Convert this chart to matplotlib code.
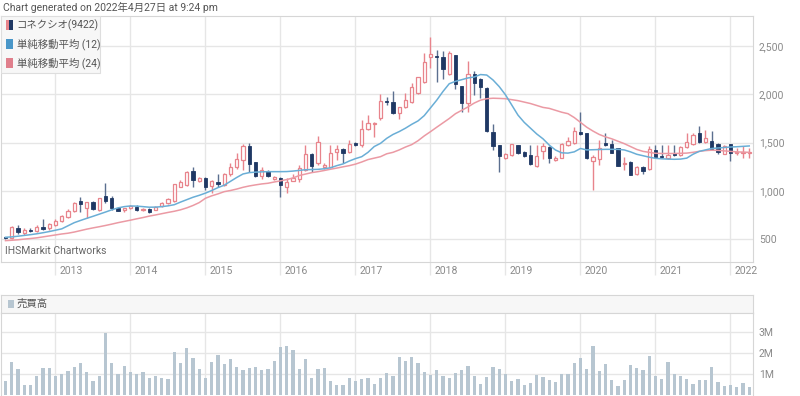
import matplotlib
matplotlib.use('Agg')
import matplotlib.pyplot as plt
from matplotlib.patches import Rectangle
import numpy as np
import pandas as pd

FONT = ['Roboto', 'Noto Sans CJK JP', 'DejaVu Sans']
plt.rcParams['font.family'] = FONT

# monthly candles, May 2012 .. Apr 2022
months = pd.date_range('2012-05-01', periods=120, freq='MS')

opens = [518, 510, 620, 565, 595, 590, 625, 612, 645, 690, 735, 790,
         895, 820, 885, 800, 945, 925, 828, 800, 825, 830, 800, 815,
         805, 840, 880, 895, 1045, 1065, 1205, 1100, 1130, 1050, 1095, 1060,
         1175, 1245, 1320, 1465, 1295, 1155, 1205, 1120, 1130, 1040, 1105, 1120,
         1215, 1385, 1285, 1250, 1250, 1400, 1430, 1405, 1495, 1475, 1640, 1690,
         1760, 1935, 1925, 1805, 1870, 1925, 2015, 2130, 2385, 2395, 2385, 2210,
         2405, 2085, 1915, 2215, 2155, 2070, 1615, 1475, 1340, 1375, 1475, 1405,
         1375, 1260, 1410, 1460, 1325, 1345, 1475, 1495, 1615, 1595, 1315, 1330,
         1495, 1490, 1440, 1280, 1305, 1175, 1250, 1225, 1425, 1365, 1340, 1390,
         1375, 1460, 1485, 1595, 1510, 1520, 1485, 1385, 1485, 1390, 1395, 1390]
highs = [520, 635, 648, 614, 612, 650, 705, 668, 705, 752, 810, 885,
         940, 890, 900, 930, 1080, 945, 835, 825, 860, 850, 825, 825,
         845, 890, 925, 1075, 1110, 1210, 1250, 1140, 1140, 1110, 1180, 1190,
         1285, 1390, 1485, 1495, 1300, 1245, 1215, 1160, 1140, 1130, 1180, 1270,
         1475, 1390, 1570, 1290, 1475, 1475, 1440, 1530, 1505, 1735, 1785, 1717,
         2005, 1975, 2030, 1870, 2010, 2115, 2180, 2430, 2590, 2460, 2450, 2450,
         2410, 2090, 2350, 2245, 2165, 2075, 1695, 1480, 1395, 1490, 1480, 1410,
         1475, 1475, 1500, 1470, 1360, 1500, 1560, 1665, 1820, 1600, 1370, 1530,
         1595, 1530, 1450, 1355, 1310, 1255, 1260, 1470, 1475, 1475, 1475, 1480,
         1470, 1600, 1605, 1670, 1630, 1625, 1495, 1475, 1490, 1445, 1465, 1440]
lows = [505, 505, 552, 545, 580, 580, 595, 600, 635, 680, 725, 780,
        780, 720, 800, 795, 880, 800, 790, 780, 815, 795, 790, 770,
        800, 835, 870, 890, 1040, 1050, 1045, 1090, 1010, 975, 1045, 1055,
        1160, 1225, 1215, 1200, 1140, 1120, 1140, 1110, 940, 975, 1100, 1090,
        1205, 1200, 1270, 1230, 1245, 1320, 1285, 1395, 1470, 1460, 1630, 1556,
        1735, 1895, 1800, 1750, 1860, 1915, 2000, 2120, 2270, 2130, 2160, 2200,
        2060, 1820, 1820, 1995, 1960, 1615, 1425, 1200, 1330, 1365, 1385, 1355,
        1270, 1250, 1330, 1285, 1315, 1340, 1470, 1490, 1580, 1330, 1015, 1270,
        1470, 1390, 1255, 1215, 1165, 1170, 1180, 1215, 1345, 1340, 1330, 1365,
        1365, 1450, 1475, 1495, 1500, 1420, 1385, 1380, 1315, 1375, 1340, 1340]
closes = [515, 630, 580, 595, 585, 630, 605, 655, 690, 740, 795, 875,
          865, 885, 810, 925, 895, 820, 798, 820, 840, 800, 815, 780,
          835, 880, 915, 1070, 1090, 1200, 1115, 1130, 1045, 1100, 1075, 1180,
          1245, 1330, 1465, 1280, 1150, 1215, 1150, 1140, 1060, 1095, 1130, 1235,
          1380, 1260, 1510, 1265, 1390, 1430, 1390, 1485, 1475, 1640, 1700, 1700,
          1930, 1925, 1805, 1865, 1940, 2080, 2175, 2330, 2415, 2385, 2260, 2425,
          2105, 1915, 2215, 2120, 2080, 1620, 1465, 1360, 1385, 1485, 1395, 1365,
          1275, 1360, 1465, 1340, 1345, 1490, 1520, 1625, 1590, 1340, 1355, 1450,
          1475, 1395, 1260, 1290, 1170, 1245, 1210, 1430, 1355, 1350, 1370, 1375,
          1460, 1510, 1580, 1505, 1545, 1430, 1400, 1465, 1390, 1400, 1405, 1400]

# simple moving averages as drawn on the chart
ma12 = [521, 525, 532, 540, 548, 557, 568, 580, 594, 608, 640, 672,
        695, 717, 738, 760, 782, 805, 825, 838, 845, 843, 838, 832,
        833, 838, 846, 858, 885, 910, 935, 955, 978, 1005, 1035, 1060,
        1100, 1140, 1176, 1190, 1195, 1198, 1200, 1200, 1200, 1201, 1206, 1213,
        1220, 1222, 1224, 1230, 1240, 1262, 1280, 1310, 1335, 1355, 1400, 1460,
        1493, 1545, 1585, 1615, 1650, 1690, 1725, 1780, 1860, 1940, 2030, 2110,
        2135, 2152, 2170, 2180, 2205, 2200, 2149, 2080, 1995, 1890, 1785, 1710,
        1650, 1590, 1540, 1475, 1424, 1395, 1392, 1405, 1440, 1425, 1427, 1429,
        1431, 1431, 1431, 1425, 1405, 1380, 1365, 1350, 1338, 1333, 1330, 1328,
        1330, 1340, 1380, 1410, 1425, 1440, 1445, 1450, 1455, 1458, 1462, 1466]
ma24 = [486, 490, 495, 502, 508, 515, 525, 535, 545, 555, 563, 575,
        590, 605, 618, 630, 643, 657, 672, 685, 698, 712, 725, 740,
        752, 765, 778, 790, 805, 825, 850, 880, 925, 950, 970, 993,
        1005, 1020, 1038, 1052, 1063, 1073, 1080, 1093, 1105, 1118, 1135, 1160,
        1175, 1190, 1200, 1212, 1225, 1237, 1250, 1262, 1278, 1300, 1325, 1340,
        1355, 1385, 1400, 1425, 1455, 1480, 1520, 1570, 1614, 1660, 1705, 1750,
        1800, 1835, 1870, 1910, 1940, 1955, 1960, 1958, 1955, 1945, 1935, 1920,
        1905, 1885, 1865, 1855, 1835, 1815, 1800, 1760, 1710, 1660, 1620, 1585,
        1560, 1540, 1515, 1490, 1460, 1430, 1410, 1400, 1390, 1388, 1388, 1388,
        1390, 1392, 1400, 1410, 1418, 1422, 1420, 1415, 1410, 1405, 1402, 1400]

# monthly volume, millions of shares
volume = [0.64, 1.55, 1.21, 0.48, 0.48, 0.90, 1.26, 1.26, 0.90, 1.01, 1.14, 1.34,
          1.50, 1.11, 0.66, 0.87, 2.96, 1.53, 0.98, 1.37, 1.11, 1.01, 1.09, 0.82,
          0.87, 0.82, 0.77, 2.04, 1.50, 2.24, 1.77, 1.21, 0.79, 1.55, 1.93, 1.45,
          1.69, 1.34, 1.16, 1.29, 1.34, 1.16, 1.21, 1.61, 2.27, 2.32, 2.16, 1.21,
          1.72, 0.81, 1.21, 1.29, 0.66, 0.48, 0.48, 0.81, 0.66, 0.77, 0.81, 0.53,
          0.81, 1.06, 0.90, 1.80, 1.64, 1.80, 1.53, 1.11, 0.93, 1.16, 0.90, 0.81,
          1.06, 1.16, 1.39, 0.88, 0.53, 0.85, 1.32, 1.24, 0.99, 0.67, 0.76, 0.48,
          0.56, 0.96, 0.85, 0.72, 0.61, 0.99, 0.98, 1.53, 1.75, 1.24, 2.35, 1.12,
          1.45, 0.72, 0.43, 0.72, 1.43, 1.29, 1.16, 1.84, 0.88, 0.76, 1.59, 0.99,
          0.87, 0.76, 0.51, 0.72, 0.72, 1.35, 0.62, 0.40, 0.45, 0.35, 0.56, 0.35]

price_ticks = [500, 1000, 1500, 2000, 2500]
vol_ticks = [1, 2, 3]

UP = '#e8848c'
DOWN = '#1f3864'
DOWN_WICK = '#5b6f8f'
MA12_C = '#6aaed6'
MA24_C = '#eb9aa4'
VOL_C = '#b7c6d1'
GRID = '#e6e6e6'
BORDER = '#d6d6d6'
TXT = '#666666'

W, H = 800, 396
fig = plt.figure(figsize=(W / 100, H / 100), dpi=100)


def px_axes(x0, y0, x1, y1):
    return fig.add_axes([x0 / W, 1 - y1 / H, (x1 - x0) / W, (y1 - y0) / H])


x = np.arange(len(months))
year_idx = [i for i, m in enumerate(months) if m.month == 1]
years = [months[i].year for i in year_idx]

# ---- price panel ----
ax = px_axes(1, 16, 753.3, 262)
ax.set_xlim(-0.72, 119.65)
ax.set_ylim(265, 2811)
ax.set_yticks(price_ticks)
ax.set_yticklabels([f'{v:,}' for v in price_ticks])
ax.yaxis.tick_right()
ax.tick_params(axis='y', length=0, pad=4, labelsize=7.5, labelcolor='#8a8a8a')
ax.set_xticks(year_idx)
ax.set_xticklabels([])
ax.tick_params(axis='x', length=9, color=GRID, width=1)
ax.grid(True, color=GRID, lw=1)
ax.set_axisbelow(True)
for s in ax.spines.values():
    s.set_color(BORDER)

o = np.array(opens); h = np.array(highs); l = np.array(lows); c = np.array(closes)
up = c >= o
ax.vlines(x[up], l[up], h[up], color=UP, lw=1, zorder=2)
ax.vlines(x[~up], l[~up], h[~up], color=DOWN_WICK, lw=1, zorder=2)
body_lo = np.minimum(o, c)
body_h = np.maximum(np.abs(c - o), 8)
ax.bar(x[up], body_h[up], bottom=body_lo[up], width=0.55, facecolor='white',
       edgecolor=UP, lw=0.9, zorder=3)
ax.bar(x[~up], body_h[~up], bottom=body_lo[~up], width=0.55, facecolor=DOWN,
       edgecolor=DOWN, lw=0.6, zorder=3)
ax.plot(x, ma24, color=MA24_C, lw=1.1, zorder=4)
ax.plot(x, ma12, color=MA12_C, lw=1.1, zorder=4)

for i, yr in zip(year_idx, years):
    ax.text(i + 0.65, -0.018, str(yr), transform=ax.get_xaxis_transform(),
            ha='left', va='top', fontsize=7.5, color='#8a8a8a', clip_on=False)

ax.text(0.005, 0.025, 'IHSMarkit Chartworks', transform=ax.transAxes,
        fontsize=7.5, color=TXT, ha='left', va='bottom')

# legend box
ax.add_patch(Rectangle((0, 0.77), 0.131, 0.23, transform=ax.transAxes,
                       facecolor='#f7f7f7', edgecolor='#dedede', lw=0.8, zorder=6))
leg_y = [0.962, 0.887, 0.81]
leg_txt = ['コネクシオ(9422)', '単純移動平均 (12)', '単純移動平均 (24)']
for k, (yy, t) in enumerate(zip(leg_y, leg_txt)):
    if k == 0:
        ax.add_patch(Rectangle((0.0065, yy - 0.02), 0.0045, 0.04, transform=ax.transAxes,
                               facecolor=UP, edgecolor='none', zorder=7))
        ax.add_patch(Rectangle((0.011, yy - 0.02), 0.0045, 0.04, transform=ax.transAxes,
                               facecolor=DOWN, edgecolor='none', zorder=7))
    else:
        col = '#4a97c9' if k == 1 else '#e07f8c'
        ax.add_patch(Rectangle((0.0065, yy - 0.02), 0.009, 0.04, transform=ax.transAxes,
                               facecolor=col, edgecolor='none', zorder=7))
    ax.text(0.021, yy, t, transform=ax.transAxes, fontsize=7.5, color='#555555',
            ha='left', va='center', zorder=7)

fig.text(3 / W, 1 - 7 / H, 'Chart generated on 2022年4月27日 at 9:24 pm',
         fontsize=7.5, color='#555555', ha='left', va='center')

# ---- volume header strip ----
hx = px_axes(1, 295, 753.3, 313.3)
hx.set_xticks([]); hx.set_yticks([])
hx.set_facecolor('#f7f7f7')
for s in hx.spines.values():
    s.set_color(BORDER)
hx.add_patch(Rectangle((0.009, 0.28), 0.0085, 0.42, transform=hx.transAxes,
                       facecolor=VOL_C, edgecolor='none'))
hx.text(0.021, 0.5, '売買高', transform=hx.transAxes, fontsize=7.5,
        color='#555555', ha='left', va='center')

# ---- volume panel ----
vx = px_axes(1, 313.3, 753.3, 394.5)
vx.set_xlim(-0.72, 119.65)
vx.set_ylim(0, 3.92)
vx.bar(x, volume, width=0.55, color=VOL_C, zorder=3)
vx.set_yticks(vol_ticks)
vx.set_yticklabels([f'{v}M' for v in vol_ticks])
vx.yaxis.tick_right()
vx.tick_params(axis='y', length=0, pad=4, labelsize=7.5, labelcolor='#8a8a8a')
vx.set_xticks(year_idx)
vx.set_xticklabels([])
vx.tick_params(axis='x', length=0)
vx.grid(True, color=GRID, lw=1)
vx.set_axisbelow(True)
for s in vx.spines.values():
    s.set_color(BORDER)
vx.spines['bottom'].set_visible(False)

fig.savefig('out.png', dpi=100)
